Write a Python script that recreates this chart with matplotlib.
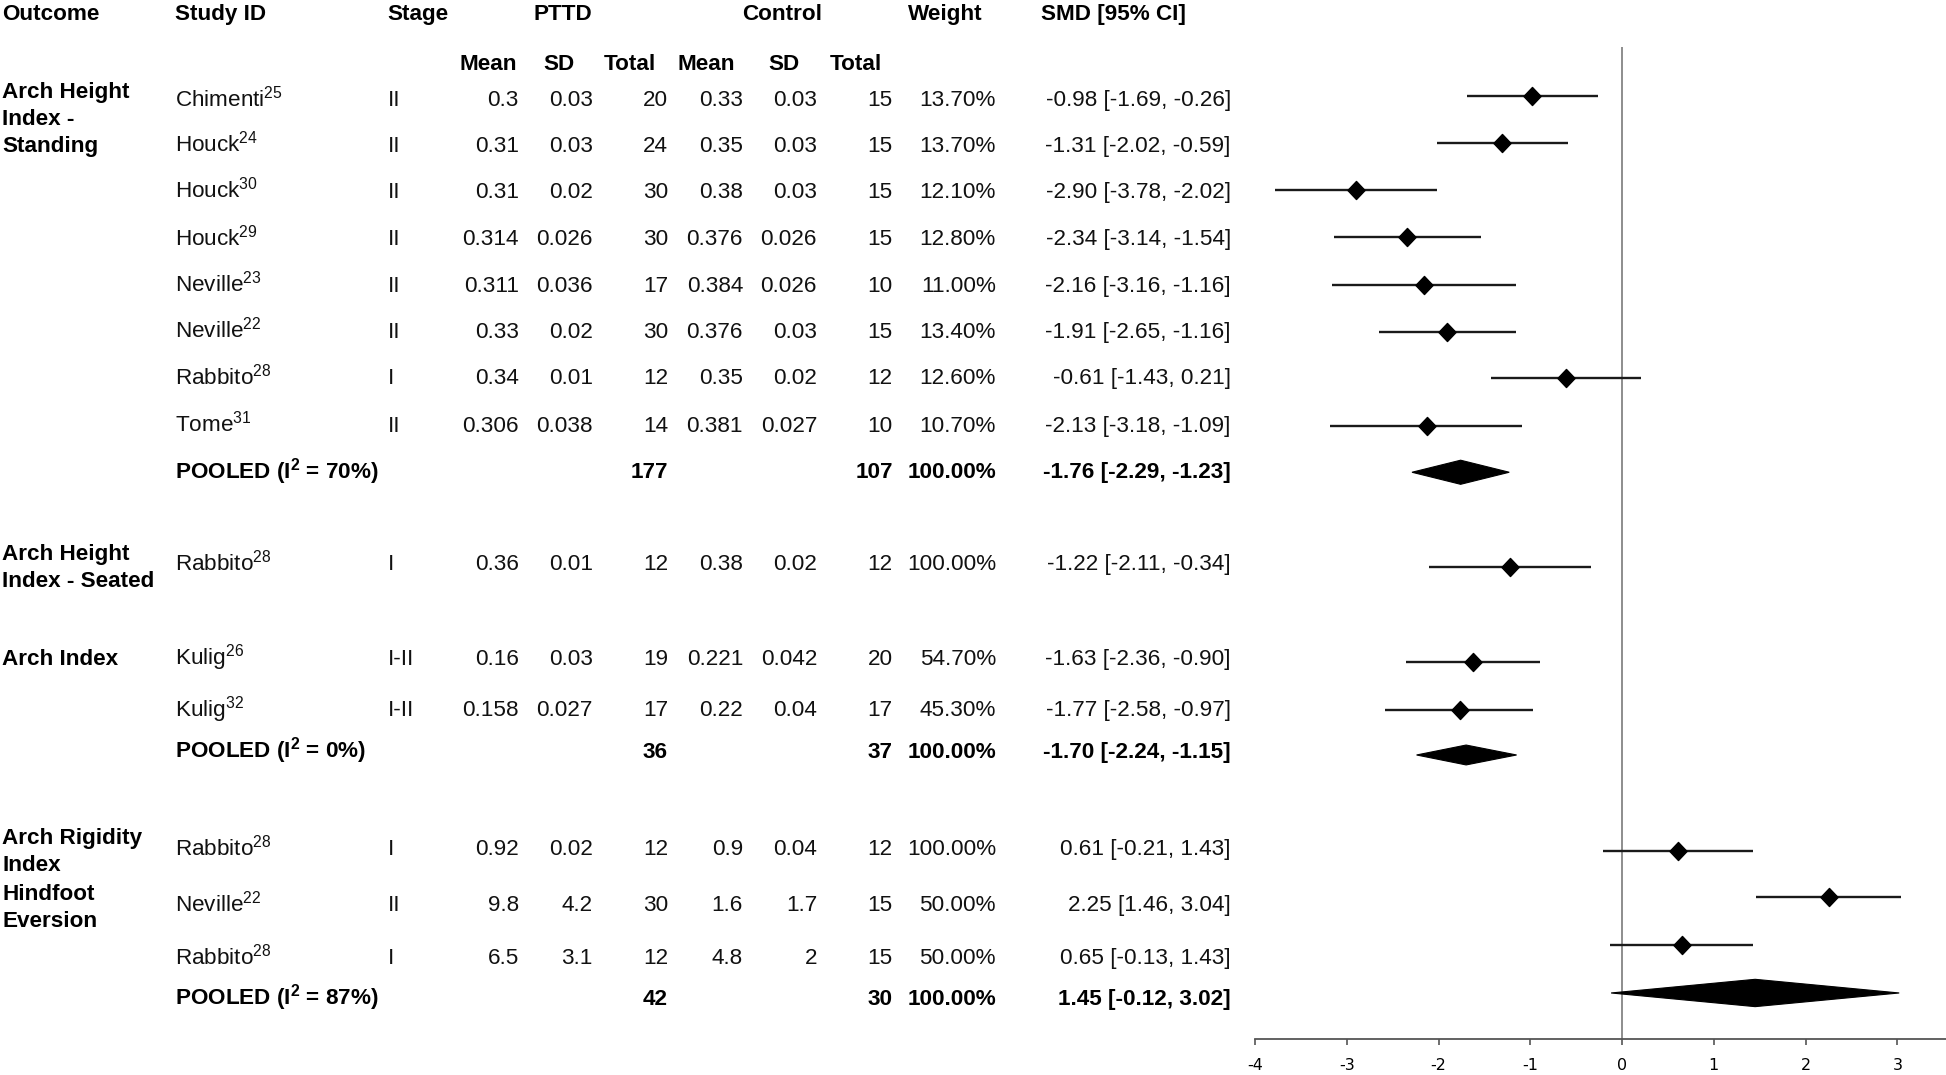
import matplotlib
matplotlib.use("Agg")
import matplotlib.pyplot as plt
from matplotlib.patches import Polygon
from matplotlib.path import Path

plt.rcParams['font.family'] = ['Liberation Sans', 'DejaVu Sans']
plt.rcParams['mathtext.fontset'] = 'custom'
plt.rcParams['mathtext.rm'] = 'Liberation Sans'
plt.rcParams['mathtext.bf'] = 'Liberation Sans:bold'
plt.rcParams['mathtext.default'] = 'regular'
plt.rcParams['axes.unicode_minus'] = False

# ---------------- data ----------------
outcomes = ["Arch Height\nIndex -\nStanding", "Arch Height\nIndex - Seated",
            "Arch Index", "Arch Rigidity\nIndex", "Hindfoot\nEversion"]
study = ["Chimenti", "Houck", "Houck", "Houck", "Neville", "Neville", "Rabbito", "Tome",
         "Rabbito", "Kulig", "Kulig", "Rabbito", "Neville", "Rabbito"]
ref = ["25", "24", "30", "29", "23", "22", "28", "31", "28", "26", "32", "28", "22", "28"]
stage = ["II", "II", "II", "II", "II", "II", "I", "II", "I", "I-II", "I-II", "I", "II", "I"]
pttd_mean = [0.3, 0.31, 0.31, 0.314, 0.311, 0.33, 0.34, 0.306, 0.36, 0.16, 0.158, 0.92, 9.8, 6.5]
pttd_sd = [0.03, 0.03, 0.02, 0.026, 0.036, 0.02, 0.01, 0.038, 0.01, 0.03, 0.027, 0.02, 4.2, 3.1]
pttd_n = [20, 24, 30, 30, 17, 30, 12, 14, 12, 19, 17, 12, 30, 12]
ctrl_mean = [0.33, 0.35, 0.38, 0.376, 0.384, 0.376, 0.35, 0.381, 0.38, 0.221, 0.22, 0.9, 1.6, 4.8]
ctrl_sd = [0.03, 0.03, 0.03, 0.026, 0.026, 0.03, 0.02, 0.027, 0.02, 0.042, 0.04, 0.04, 1.7, 2]
ctrl_n = [15, 15, 15, 15, 10, 15, 12, 10, 12, 20, 17, 12, 15, 15]
weight = [13.7, 13.7, 12.1, 12.8, 11.0, 13.4, 12.6, 10.7, 100.0, 54.7, 45.3, 100.0, 50.0, 50.0]
smd = [-0.98, -1.31, -2.90, -2.34, -2.16, -1.91, -0.61, -2.13, -1.22, -1.63, -1.77, 0.61, 2.25, 0.65]
smd_lo = [-1.69, -2.02, -3.78, -3.14, -3.16, -2.65, -1.43, -3.18, -2.11, -2.36, -2.58, -0.21, 1.46, -0.13]
smd_hi = [-0.26, -0.59, -2.02, -1.54, -1.16, -1.16, 0.21, -1.09, -0.34, -0.90, -0.97, 1.43, 3.04, 1.43]

pooled_i2 = [70, 0, 87]
pooled_pttd_n = [177, 36, 42]
pooled_ctrl_n = [107, 37, 30]
pooled_weight = [100.0, 100.0, 100.0]
pooled_smd = [-1.76, -1.70, 1.45]
pooled_lo = [-2.29, -2.24, -0.12]
pooled_hi = [-1.23, -1.15, 3.02]

xticks = [-4, -3, -2, -1, 0, 1, 2, 3]

# ---------------- layout (reference units: 1566 x 865) ----------------
W, H = 1566.0, 865.0
X0, AXIS_Y = 1010.0, 836.0
outcome_y = [72.7, 444, 528.5, 673, 717.5]
line_step = 21.8
row_y = [79, 116, 153, 191, 228.5, 265.5, 303, 341, 452.5, 528.5, 570, 682, 727, 769.6]
mark_y = [77, 115, 153, 190.5, 229, 267, 304, 342.5, 456.5, 532.5, 571, 684.5, 722, 760]
pooled_row_y = [378.5, 603.5, 802]
pooled_mark_y = [380, 607.5, 799]
pooled_half_h = [9.7, 8.0, 11.0]
header_y, sub_y = 9.4, 50

col_outcome, col_study, col_stage = 2.0, 141.0, 312
col_num = [417.5, 477, 537.5, 598, 657.5, 718.5]   # right edges
col_weight, col_smd = 801.5, 990.5
FS = 16.2
TXT = '#111111'

fig = plt.figure(figsize=(19.46, 10.75), dpi=100)
axt = fig.add_axes([0, 0, 1, 1])
axt.set_xlim(0, W)
axt.set_ylim(H, 0)
axt.axis('off')

BASE = 6.3  # baseline offset from text centre


def put(x, y, s, ha='left', bold=False, color=TXT):
    axt.text(x, y + BASE, s, ha=ha, va='baseline', fontsize=FS,
             fontweight='bold' if bold else 'normal', color='black' if bold else color)


# headers
for x, s in zip([col_outcome, col_study, col_stage, 429, 597, 731, 838],
                ["Outcome", "Study ID", "Stage", "PTTD", "Control", "Weight", "SMD [95% CI]"]):
    put(x, header_y, s, bold=True)
for x, s in zip([370, 437, 486, 545, 618, 668], ["Mean", "SD", "Total", "Mean", "SD", "Total"]):
    put(x, sub_y, s, bold=True)

# outcome labels
for lab, y0 in zip(outcomes, outcome_y):
    for i, ln in enumerate(lab.split("\n")):
        put(col_outcome, y0 + i * line_step, ln, bold=True)

fmt = lambda v: format(v, 'g')
for i in range(len(study)):
    y = row_y[i]
    put(col_study, y, study[i] + "$^{" + ref[i] + "}$")
    put(col_stage, y, stage[i])
    vals = [fmt(pttd_mean[i]), fmt(pttd_sd[i]), str(pttd_n[i]),
            fmt(ctrl_mean[i]), fmt(ctrl_sd[i]), str(ctrl_n[i])]
    for x, v in zip(col_num, vals):
        put(x, y, v, ha='right')
    put(col_weight, y, f"{weight[i]:.2f}%", ha='right')
    put(col_smd, y, f"{smd[i]:.2f} [{smd_lo[i]:.2f}, {smd_hi[i]:.2f}]", ha='right')

for k in range(len(pooled_i2)):
    y = pooled_row_y[k]
    put(col_study, y, "POOLED (I$^{2}$ = " + f"{pooled_i2[k]}%)", bold=True)
    put(col_num[2], y, str(pooled_pttd_n[k]), ha='right', bold=True)
    put(col_num[5], y, str(pooled_ctrl_n[k]), ha='right', bold=True)
    put(col_weight, y, f"{pooled_weight[k]:.2f}%", ha='right', bold=True)
    put(col_smd, y, f"{pooled_smd[k]:.2f} [{pooled_lo[k]:.2f}, {pooled_hi[k]:.2f}]",
        ha='right', bold=True)

# ---------------- forest plot ----------------
axf = fig.add_axes([X0 / W, 1 - AXIS_Y / H, 1 - X0 / W, AXIS_Y / H])
axf.set_xlim(-4, 3.53)
axf.set_ylim(AXIS_Y, 0)
axf.patch.set_alpha(0)

axf.vlines(0, 38, AXIS_Y, color='#7a7a7a', lw=1.2, zorder=1)

diamond = Path([(0, 1), (0.95, 0), (0, -1), (-0.95, 0), (0, 1)],
               [Path.MOVETO, Path.LINETO, Path.LINETO, Path.LINETO, Path.CLOSEPOLY])
for i in range(len(smd)):
    axf.plot([smd_lo[i], smd_hi[i]], [mark_y[i], mark_y[i]], color='#1a1a1a', lw=1.7,
             solid_capstyle='butt', zorder=2)
    axf.plot(smd[i], mark_y[i], marker=diamond, ms=13, color='black', mec='black', zorder=3)

for k in range(len(pooled_smd)):
    y, h = pooled_mark_y[k], pooled_half_h[k]
    poly = Polygon([(pooled_lo[k], y), (pooled_smd[k], y - h), (pooled_hi[k], y),
                    (pooled_smd[k], y + h)], closed=True, fc='black', ec='black', lw=0.8,
                   zorder=3)
    axf.add_patch(poly)

for s in ['top', 'right', 'left']:
    axf.spines[s].set_visible(False)
axf.spines['bottom'].set_color('#555555')
axf.spines['bottom'].set_linewidth(1.3)
axf.set_yticks([])
axf.set_xticks(xticks)
axf.set_xticklabels([str(v) for v in xticks], fontfamily='DejaVu Sans', fontsize=11.5)
axf.tick_params(axis='x', direction='out', length=4.5, width=1.2, color='#555555', pad=9)

fig.savefig("out.png", dpi=100)
